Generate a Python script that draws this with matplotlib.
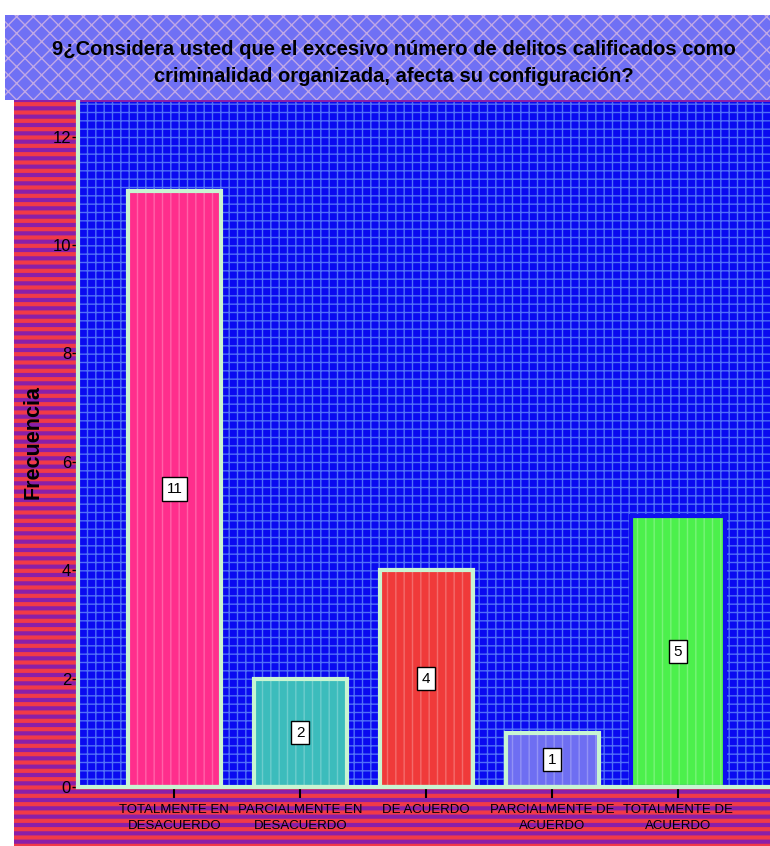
import matplotlib
matplotlib.use("Agg")
import matplotlib.pyplot as plt
from matplotlib.patches import Rectangle

categories = ["TOTALMENTE EN\nDESACUERDO", "PARCIALMENTE EN\nDESACUERDO", "DE ACUERDO",
              "PARCIALMENTE DE\nACUERDO", "TOTALMENTE DE\nACUERDO"]
values = [11, 2, 4, 1, 5]
bar_colors = ["#ff2e8c", "#3cbcbc", "#f03a3a", "#6e6ef2", "#4cf04c"]
edge_colors = ["#c8f5d2", "#c8f5d2", "#c8f5d2", "#c8f5d2", "#1010f0"]
yticks = [0, 2, 4, 6, 8, 10, 12]
title = "9¿Considera usted que el excesivo número de delitos calificados como\ncriminalidad organizada, afecta su configuración?"
ylabel = "Frecuencia"

plt.rcParams['font.family'] = ['Liberation Sans', 'DejaVu Sans']

W, H = 770, 846
fig = plt.figure(figsize=(W / 100, H / 100), dpi=100)
fig.patch.set_facecolor("white")

# striped outer chart frame
with plt.rc_context({'hatch.linewidth': 3.0}):
    frame = Rectangle((14 / W, 0), 1 - 14 / W, (846 - 100) / H, transform=fig.transFigure,
                      facecolor="#8a1fa8", edgecolor="#f03a48", hatch="--", linewidth=0, zorder=0)
fig.patches.append(frame)

# title band
with plt.rc_context({'hatch.linewidth': 1.0}):
    band = Rectangle((5 / W, 1 - 100 / H), 1 - 5 / W, 85 / H, transform=fig.transFigure,
                     facecolor="#7070f4", edgecolor="#c0a8e6", hatch="xx", linewidth=0, zorder=0)
fig.patches.append(band)
fig.text(0.512, 1 - 63 / H, title, ha="center", va="center", fontsize=14.5,
         fontweight="bold", color="black", linespacing=1.5, zorder=5)

ax = fig.add_axes([78 / W, 1 - 787 / H, 1 - 78 / W, (787 - 102) / H])
ax.set_zorder(2)
ax.set_facecolor("#0a0af0")
with plt.rc_context({'hatch.linewidth': 1.0}):
    bg = Rectangle((0, 0), 1, 1, transform=ax.transAxes, facecolor="#0a0af0",
                   edgecolor="#5070f8", hatch="++", linewidth=0, zorder=0)
ax.add_patch(bg)

x = list(range(len(values)))
with plt.rc_context({'hatch.linewidth': 1.0}):
    ax.bar(x, values, width=0.74, color=bar_colors, edgecolor="#ffffff40", hatch="||",
           linewidth=0, zorder=2)
ax.bar(x, values, width=0.74, color="none", edgecolor=edge_colors, linewidth=3, zorder=3)

for xi, v in zip(x, values):
    ax.text(xi, v / 2, str(v), ha="center", va="center", fontsize=11, color="black", zorder=5,
            bbox=dict(boxstyle="square,pad=0.3", facecolor="white", edgecolor="black", linewidth=1))

ax.set_xlim(-0.765, 4.73)
ax.set_ylim(0, 12.64)
ax.set_yticks(yticks)
ax.set_yticklabels([str(t) for t in yticks], fontsize=12)
ax.set_xticks(x)
ax.set_xticklabels(categories, fontsize=9.5, linespacing=1.45)
ax.tick_params(axis="y", length=4, width=1, color="black", pad=1)
ax.tick_params(axis="x", length=8, width=1.5, color="black", pad=4)
for s in ["top", "right"]:
    ax.spines[s].set_visible(False)
for s in ["left", "bottom"]:
    ax.spines[s].set_color("#c8f5d2")
    ax.spines[s].set_linewidth(3)
    ax.spines[s].set_zorder(4)

fig.text(33 / W, 1 - 442 / H, ylabel, rotation=90, ha="center", va="center",
         fontsize=15.5, fontweight="bold", color="black", zorder=5)

fig.savefig("out.png", dpi=100)
